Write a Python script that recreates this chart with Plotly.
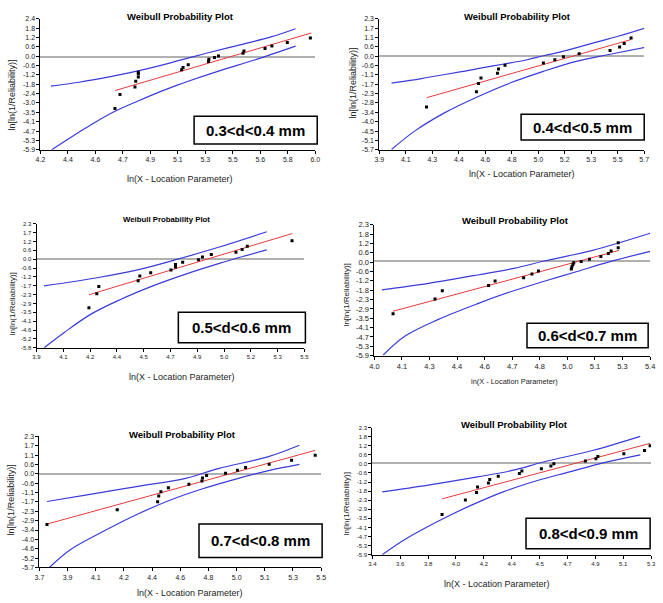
import numpy as np
import plotly.graph_objects as go

W, H = 663, 603

# ---------------- data ----------------
labels = ["0.3<d<0.4 mm", "0.4<d<0.5 mm", "0.5<d<0.6 mm",
          "0.6<d<0.7 mm", "0.7<d<0.8 mm", "0.8<d<0.9 mm"]

# panel 1
p1_x = [4.688, 4.721, 4.819, 4.824, 4.841, 4.841, 4.841, 5.125, 5.134, 5.168, 5.301, 5.303, 5.340, 5.366, 5.527, 5.533, 5.671, 5.716, 5.817, 5.968]
p1_y = [-3.29, -2.40, -1.92, -1.56, -1.29, -1.08, -0.98, -0.83, -0.68, -0.52, -0.31, -0.16, -0.06, 0.04, 0.21, 0.36, 0.51, 0.67, 0.90, 1.19]
p1_fit_x = [4.688, 5.974]
p1_fit_y = [-2.15, 1.50]
p1_up_x = [4.269, 4.452, 4.666, 4.839, 4.989, 5.172, 5.279, 5.495, 5.710, 5.871]
p1_up_y = [-1.87, -1.62, -1.25, -0.90, -0.55, -0.08, 0.20, 0.72, 1.25, 1.77]
p1_lo_x = [4.273, 4.452, 4.559, 4.688, 4.839, 4.989, 5.097, 5.172, 5.387, 5.602, 5.871]
p1_lo_y = [-5.90, -4.79, -4.15, -3.46, -2.81, -2.20, -1.80, -1.54, -0.85, -0.21, 0.67]
p1_xrange = [4.2, 6.0]
p1_yrange = [-5.9, 2.4]
p1_xticks = ["4.2", "4.4", "4.6", "4.7", "4.9", "5.1", "5.3", "5.5", "5.6", "5.8", "6.0"]
p1_yticks = ["-5.9", "-5.3", "-4.7", "-4.1", "-3.5", "-3.0", "-2.4", "-1.8", "-1.2", "-0.6", "0.0", "0.6", "1.2", "1.8", "2.4"]

# panel 2
p2_x = [4.221, 4.560, 4.574, 4.591, 4.703, 4.710, 4.754, 5.015, 5.093, 5.151, 5.258, 5.468, 5.533, 5.564, 5.611]
p2_y = [-3.08, -2.16, -1.65, -1.31, -1.03, -0.76, -0.54, -0.40, -0.20, -0.02, 0.16, 0.36, 0.57, 0.79, 1.13]
p2_fit_x = [4.221, 5.611]
p2_fit_y = [-2.52, 1.03]
p2_up_x = [3.983, 4.123, 4.235, 4.458, 4.569, 4.748, 4.904, 5.015, 5.127, 5.350, 5.528, 5.714]
p2_up_y = [-1.63, -1.45, -1.27, -0.93, -0.74, -0.46, -0.20, 0.04, 0.26, 0.81, 1.25, 1.76]
p2_lo_x = [3.983, 4.145, 4.346, 4.569, 4.792, 5.015, 5.238, 5.461, 5.714]
p2_lo_y = [-5.68, -4.53, -3.43, -2.46, -1.61, -0.91, -0.30, 0.12, 0.57]
p2_xrange = [3.9, 5.7]
p2_yrange = [-5.7, 2.3]
p2_xticks = ["3.9", "4.1", "4.3", "4.4", "4.6", "4.8", "5.0", "5.2", "5.3", "5.5", "5.7"]
p2_yticks = ["-5.7", "-5.1", "-4.5", "-4.0", "-3.4", "-2.8", "-2.3", "-1.7", "-1.1", "-0.6", "0.0", "0.6", "1.1", "1.7", "2.3"]

# panel 3
p3_x = [4.213, 4.260, 4.272, 4.507, 4.517, 4.582, 4.703, 4.730, 4.730, 4.773, 4.867, 4.891, 4.944, 5.091, 5.128, 5.159, 5.426]
p3_y = [-3.19, -2.27, -1.80, -1.42, -1.12, -0.91, -0.73, -0.52, -0.37, -0.22, -0.05, 0.12, 0.29, 0.44, 0.61, 0.83, 1.19]
p3_fit_x = [4.213, 5.428]
p3_fit_y = [-2.34, 1.66]
p3_up_x = [3.945, 4.262, 4.497, 4.732, 4.987, 5.275]
p3_up_y = [-1.76, -1.23, -0.73, -0.05, 0.76, 1.77]
p3_lo_x = [3.945, 4.066, 4.223, 4.399, 4.595, 4.791, 4.987, 5.085, 5.275]
p3_lo_y = [-5.80, -4.80, -3.62, -2.66, -1.76, -0.99, -0.31, 0.01, 0.59]
p3_xrange = [3.9, 5.5]
p3_yrange = [-5.8, 2.3]
p3_xticks = ["3.9", "4.1", "4.2", "4.4", "4.5", "4.7", "4.9", "5.0", "5.2", "5.3", "5.5"]
p3_yticks = ["-5.8", "-5.2", "-4.6", "-4.1", "-3.5", "-2.9", "-2.3", "-1.7", "-1.2", "-0.6", "0.0", "0.6", "1.2", "1.7", "2.3"]

# panel 4
p4_x = [4.095, 4.308, 4.345, 4.580, 4.613, 4.758, 4.800, 4.833, 5.000, 5.003, 5.008, 5.012, 5.050, 5.092, 5.150, 5.188, 5.202, 5.238, 5.238]
p4_y = [-3.28, -2.36, -1.84, -1.51, -1.22, -1.02, -0.79, -0.60, -0.48, -0.34, -0.19, -0.09, 0.00, 0.14, 0.30, 0.49, 0.65, 0.86, 1.17]
p4_fit_x = [4.095, 5.242]
p4_fit_y = [-3.12, 0.69]
p4_up_x = [4.038, 4.275, 4.525, 4.708, 4.858, 5.108, 5.400]
p4_up_y = [-1.78, -1.37, -0.85, -0.44, 0.01, 0.69, 1.76]
p4_lo_x = [4.045, 4.158, 4.325, 4.525, 4.692, 4.858, 5.025, 5.192, 5.400]
p4_lo_y = [-5.86, -4.66, -3.63, -2.64, -1.90, -1.26, -0.65, -0.03, 0.63]
p4_xrange = [4.0, 5.4]
p4_yrange = [-5.9, 2.3]
p4_xticks = ["4.0", "4.1", "4.3", "4.4", "4.6", "4.7", "4.8", "5.0", "5.1", "5.3", "5.4"]
p4_yticks = ["-5.9", "-5.3", "-4.7", "-4.1", "-3.5", "-2.9", "-2.3", "-1.8", "-1.2", "-0.6", "0.0", "0.6", "1.2", "1.8", "2.3"]

# panel 5
p5_x = [3.748, 4.197, 4.455, 4.462, 4.476, 4.524, 4.655, 4.738, 4.742, 4.768, 4.889, 4.965, 5.017, 5.168, 5.311, 5.462]
p5_y = [-3.08, -2.18, -1.69, -1.33, -1.07, -0.83, -0.62, -0.42, -0.24, -0.08, 0.06, 0.24, 0.40, 0.61, 0.85, 1.15]
p5_fit_x = [3.748, 5.462]
p5_fit_y = [-3.05, 1.45]
p5_up_x = [3.748, 4.004, 4.319, 4.634, 4.843, 5.158, 5.361]
p5_up_y = [-1.67, -1.27, -0.76, -0.26, 0.34, 1.05, 1.76]
p5_lo_x = [3.763, 3.899, 4.109, 4.319, 4.529, 4.738, 4.948, 5.158, 5.361]
p5_lo_y = [-5.70, -4.60, -3.49, -2.48, -1.61, -0.91, -0.32, 0.20, 0.59]
p5_xrange = [3.7, 5.5]
p5_yrange = [-5.7, 2.3]
p5_xticks = ["3.7", "3.9", "4.1", "4.2", "4.4", "4.6", "4.8", "5.0", "5.1", "5.3", "5.5"]
p5_yticks = ["-5.7", "-5.2", "-4.6", "-4.0", "-3.4", "-2.9", "-2.3", "-1.7", "-1.1", "-0.6", "0.0", "0.6", "1.1", "1.7", "2.3"]

# panel 6
p6_x = [3.875, 4.034, 4.110, 4.117, 4.191, 4.200, 4.258, 4.402, 4.419, 4.552, 4.617, 4.637, 4.852, 4.924, 4.937, 5.114, 5.255, 5.293]
p6_y = [-3.31, -2.38, -1.89, -1.53, -1.28, -1.05, -0.84, -0.67, -0.50, -0.35, -0.18, -0.03, 0.14, 0.29, 0.44, 0.61, 0.82, 1.13]
p6_fit_x = [3.875, 5.293]
p6_fit_y = [-2.30, 1.28]
p6_up_x = [3.467, 3.781, 4.117, 4.363, 4.565, 4.901, 5.226]
p6_up_y = [-1.85, -1.41, -0.88, -0.45, 0.08, 0.82, 1.73]
p6_lo_x = [3.467, 3.624, 3.848, 4.072, 4.296, 4.520, 4.744, 4.968, 5.226]
p6_lo_y = [-5.90, -4.90, -3.74, -2.72, -1.83, -1.13, -0.56, 0.01, 0.54]
p6_xrange = [3.4, 5.3]
p6_yrange = [-5.9, 2.3]
p6_xticks = ["3.4", "3.6", "3.8", "4.0", "4.2", "4.4", "4.5", "4.7", "4.9", "5.1", "5.3"]
p6_yticks = ["-5.9", "-5.3", "-4.7", "-4.1", "-3.5", "-2.9", "-2.3", "-1.8", "-1.2", "-0.6", "0.0", "0.6", "1.2", "1.8", "2.3"]

panels = [
    (p1_x, p1_y, p1_fit_x, p1_fit_y, p1_up_x, p1_up_y, p1_lo_x, p1_lo_y, p1_xrange, p1_yrange, p1_xticks, p1_yticks),
    (p2_x, p2_y, p2_fit_x, p2_fit_y, p2_up_x, p2_up_y, p2_lo_x, p2_lo_y, p2_xrange, p2_yrange, p2_xticks, p2_yticks),
    (p3_x, p3_y, p3_fit_x, p3_fit_y, p3_up_x, p3_up_y, p3_lo_x, p3_lo_y, p3_xrange, p3_yrange, p3_xticks, p3_yticks),
    (p4_x, p4_y, p4_fit_x, p4_fit_y, p4_up_x, p4_up_y, p4_lo_x, p4_lo_y, p4_xrange, p4_yrange, p4_xticks, p4_yticks),
    (p5_x, p5_y, p5_fit_x, p5_fit_y, p5_up_x, p5_up_y, p5_lo_x, p5_lo_y, p5_xrange, p5_yrange, p5_xticks, p5_yticks),
    (p6_x, p6_y, p6_fit_x, p6_fit_y, p6_up_x, p6_up_y, p6_lo_x, p6_lo_y, p6_xrange, p6_yrange, p6_xticks, p6_yticks),
]

# ---------------- layout (pixels) ----------------
# plot areas: left, right, top, bottom
areas = [(36, 315, 15, 148), (380, 649, 15, 148), (32, 304, 223, 349),
         (375, 655, 224, 357), (35, 321, 439, 572), (373, 656, 430, 559)]
boxes = [(192, 317, 114, 142), (524, 649, 112, 138), (176, 305, 313, 344),
         (530, 653, 324, 349), (197, 322, 528, 562), (529, 655, 522, 553)]
titles = [(178, 12.5), (520, 13), (164, 219), (518, 220), (180, 437), (517, 427)]
xlabels = [(178, 178), (525, 173), (180, 379), (517, 383), (188, 598), (500, 589)]
ylabels = [(7, 92), (353, 80), (8, 304), (347, 295), (7, 503), (347, 507)]
tick_sz = [7, 7, 6, 7.5, 7, 6]
title_sz = [9.5, 9.5, 7.8, 9.5, 9.5, 9.5]
xlab_sz = [9, 9, 9, 7.4, 9, 9]
ylab_sz = [9, 9, 8, 8, 9, 8]

FONT = "Liberation Sans, Arial, sans-serif"
BLUE = "#3b3bdc"
RED = "#e83a3a"

def px(x):
    return x / W

def py(y):
    return 1 - y / H

fig = go.Figure()
layout = dict()
annotations = []
shapes = []

for i, (xs, ys, fx, fy, ux, uy, lx, ly, xr, yr, xt, yt) in enumerate(panels):
    n = i + 1
    xa = "x" if n == 1 else f"x{n}"
    ya = "y" if n == 1 else f"y{n}"
    fig.add_trace(go.Scatter(x=ux, y=uy, mode="lines", line=dict(color=BLUE, width=1.2, shape="spline", smoothing=1.0),
                             xaxis=xa, yaxis=ya, showlegend=False, hoverinfo="skip"))
    fig.add_trace(go.Scatter(x=lx, y=ly, mode="lines", line=dict(color=BLUE, width=1.2, shape="spline", smoothing=1.0),
                             xaxis=xa, yaxis=ya, showlegend=False, hoverinfo="skip"))
    fig.add_trace(go.Scatter(x=fx, y=fy, mode="lines", line=dict(color=RED, width=1),
                             xaxis=xa, yaxis=ya, showlegend=False))
    fig.add_trace(go.Scatter(x=xs, y=ys, mode="markers",
                             marker=dict(symbol="square", size=3, color="black"),
                             xaxis=xa, yaxis=ya, showlegend=False))
    l, r, t, b = areas[i]
    xkey = "xaxis" if n == 1 else f"xaxis{n}"
    ykey = "yaxis" if n == 1 else f"yaxis{n}"
    xtv = list(np.linspace(xr[0], xr[1], len(xt)))
    ytv = list(np.linspace(yr[0], yr[1], len(yt)))
    layout[xkey] = dict(domain=[px(l), px(r)], range=xr, anchor=ya, showgrid=False, zeroline=False,
                        showline=True, linecolor="black", linewidth=1, ticks="outside", ticklen=3,
                        tickcolor="black", tickvals=xtv, ticktext=xt,
                        tickfont=dict(family=FONT, size=tick_sz[i], color="#222"))
    layout[ykey] = dict(domain=[py(b), py(t)], range=yr, anchor=xa, showgrid=False,
                        zeroline=True, zerolinecolor="#b0b0b0", zerolinewidth=1.5,
                        showline=True, linecolor="black", linewidth=1, ticks="outside", ticklen=3,
                        tickcolor="black", tickvals=ytv, ticktext=yt,
                        tickfont=dict(family=FONT, size=tick_sz[i], color="#222"))
    annotations.append(dict(x=px(titles[i][0]), y=py(titles[i][1]), xref="paper", yref="paper",
                            text="<b>Weibull Probability Plot</b>", showarrow=False,
                            xanchor="center", yanchor="middle",
                            font=dict(family=FONT, size=title_sz[i], color="black")))
    annotations.append(dict(x=px(xlabels[i][0]), y=py(xlabels[i][1]), xref="paper", yref="paper",
                            text="ln(X - Location Parameter)", showarrow=False,
                            xanchor="center", yanchor="middle",
                            font=dict(family=FONT, size=xlab_sz[i], color="#222")))
    annotations.append(dict(x=px(ylabels[i][0]), y=py(ylabels[i][1]), xref="paper", yref="paper",
                            text="ln[ln(1/Reliability)]", showarrow=False, textangle=-90,
                            xanchor="center", yanchor="middle",
                            font=dict(family=FONT, size=ylab_sz[i], color="#222")))
    bl, br, bt, bb = boxes[i]
    shapes.append(dict(type="rect", xref="paper", yref="paper", x0=px(bl), x1=px(br),
                       y0=py(bb), y1=py(bt), line=dict(color="black", width=1.5),
                       fillcolor="white", layer="above"))
    annotations.append(dict(x=px((bl + br) / 2), y=py((bt + bb) / 2), xref="paper", yref="paper",
                            text=f"<b>{labels[i]}</b>", showarrow=False,
                            xanchor="center", yanchor="middle",
                            font=dict(family=FONT, size=15, color="black")))

fig.update_layout(width=W, height=H, margin=dict(l=0, r=0, t=0, b=0),
                  paper_bgcolor="white", plot_bgcolor="white",
                  annotations=annotations, shapes=shapes, **layout)

fig.write_html("out.html")
